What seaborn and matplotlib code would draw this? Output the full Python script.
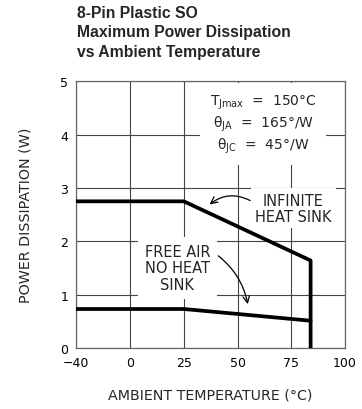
import numpy as np
import pandas as pd
import matplotlib
matplotlib.use("Agg")
import matplotlib.pyplot as plt
import seaborn as sns

# Axis ticks (the temperature axis is drawn with equal spacing between ticks)
x_ticks = [-40, 0, 25, 50, 75, 100]
y_ticks = [0, 1, 2, 3, 4, 5]

# Derating curves
inf_temp = [-40, 25, 84, 84]
inf_power = [2.75, 2.75, 1.64, 0.0]
free_temp = [-40, 25, 84]
free_power = [0.73, 0.73, 0.51]

title_lines = ["8-Pin Plastic SO", "Maximum Power Dissipation", "vs Ambient Temperature"]

sns.set_theme(style="white")
plt.rcParams["font.family"] = ["DejaVu Sans"]
plt.rcParams["mathtext.fontset"] = "dejavusans"

fig = plt.figure(figsize=(3.62, 4.10), dpi=100)
ax = fig.add_axes([0.211, 0.149, 0.742, 0.650])

pos = np.arange(len(x_ticks), dtype=float)


def fwd(t):
    return np.interp(t, x_ticks, pos, left=-1e9, right=1e9)


def inv(p):
    return np.interp(p, pos, x_ticks)


ax.set_xscale("function", functions=(fwd, inv))

df_inf = pd.DataFrame({"temp": inf_temp, "power": inf_power})
df_free = pd.DataFrame({"temp": free_temp, "power": free_power})
sns.lineplot(data=df_inf, x="temp", y="power", sort=False, color="black",
             linewidth=2.7, ax=ax, zorder=5, estimator=None)
sns.lineplot(data=df_free, x="temp", y="power", sort=False, color="black",
             linewidth=2.7, ax=ax, zorder=5, estimator=None)

ax.set_xlim(-40, 100)
ax.set_ylim(0, 5)
ax.set_xticks(x_ticks)
ax.set_xticklabels(["\u221240", "0", "25", "50", "75", "100"])
ax.set_yticks(y_ticks)
ax.set_yticklabels([str(v) for v in y_ticks])
ax.grid(True, color="#444444", linewidth=0.8)
ax.tick_params(axis="both", length=0, labelsize=9, colors="black", pad=6)
for s in ax.spines.values():
    s.set_color("#666666")
    s.set_linewidth(0.9)

ax.set_xlabel("AMBIENT TEMPERATURE (\u00b0C)", fontsize=10.3, labelpad=13)
ax.set_ylabel("POWER DISSIPATION (W)", fontsize=10.3, labelpad=20)

box = dict(facecolor="white", edgecolor="none", pad=3)

ax.text(62, 4.2,
        "$\\mathregular{T_{Jmax}}$  =  150\u00b0C\n"
        "$\\mathregular{\u03b8_{JA}}$  =  165\u00b0/W\n"
        "$\\mathregular{\u03b8_{JC}}$  =  45\u00b0/W",
        ha="center", va="center", fontsize=10, linespacing=1.2,
        bbox=dict(facecolor="white", edgecolor="none", pad=7), zorder=3)

ax.text(76, 2.62, "INFINITE\nHEAT SINK", ha="center", va="center",
        fontsize=10.5, linespacing=1.1, bbox=box, zorder=3)

ax.text(22, 1.5, "FREE AIR\nNO HEAT\nSINK", ha="center", va="center",
        fontsize=10.5, linespacing=1.1,
        bbox=dict(facecolor="white", edgecolor="none", pad=5), zorder=3)

ax.annotate("", xy=(36, 2.66), xytext=(57, 2.74),
            arrowprops=dict(arrowstyle="->", color="black", lw=0.9,
                            connectionstyle="arc3,rad=0.35"), zorder=6)
ax.annotate("", xy=(55, 0.77), xytext=(40, 1.76),
            arrowprops=dict(arrowstyle="->", color="black", lw=0.9,
                            connectionstyle="arc3,rad=-0.2"), zorder=6)

for i, line in enumerate(title_lines):
    fig.text(77 / 362, 1 - (13 + 19.5 * i) / 410, line, fontsize=11.3,
             fontweight="bold", family="Liberation Sans", ha="left", va="center")

fig.savefig("out.png", dpi=100)
